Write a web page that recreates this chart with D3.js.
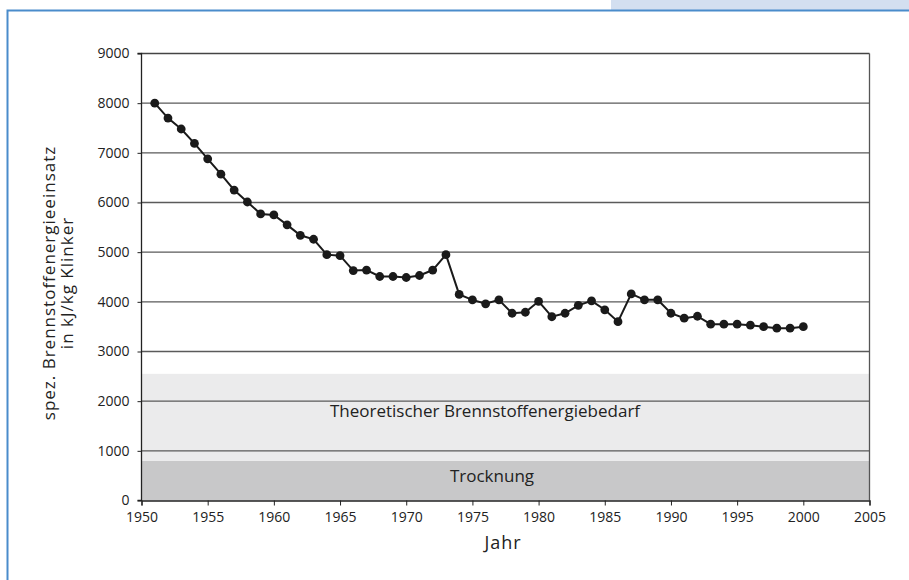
<!DOCTYPE html>
<html><head><meta charset="utf-8">
<script src="https://cdn.jsdelivr.net/npm/d3@7/dist/d3.min.js"></script>
<style>
html,body{margin:0;padding:0;background:#fff;}
svg{display:block;}
text{font-family:"Open Sans",sans-serif;fill:#222;}
</style></head>
<body>
<svg id="c" width="909" height="580"></svg>
<script>
const years = [1951,1952,1953,1954,1955,1956,1957,1958,1959,1960,1961,1962,1963,1964,1965,1966,1967,1968,1969,1970,1971,1972,1973,1974,1975,1976,1977,1978,1979,1980,1981,1982,1983,1984,1985,1986,1987,1988,1989,1990,1991,1992,1993,1994,1995,1996,1997,1998,1999,2000];
const energy = [8000,7700,7480,7190,6880,6570,6250,6010,5770,5750,5550,5340,5260,4950,4930,4630,4640,4510,4510,4490,4530,4640,4950,4150,4040,3960,4040,3770,3790,4010,3700,3770,3930,4020,3840,3600,4160,4040,4040,3770,3670,3710,3550,3550,3550,3530,3500,3470,3470,3500];
const yTicks = [0,1000,2000,3000,4000,5000,6000,7000,8000,9000];
const xTicks = [1950,1955,1960,1965,1970,1975,1980,1985,1990,1995,2000,2005];
const bandNames = ["Trocknung","Theoretischer Brennstoffenergiebedarf"];
const bandLow = [0,800];
const bandHigh = [800,2550];
const yTitle = ["spez. Brennstoffenergieeinsatz","in kJ/kg Klinker"];
const xTitle = "Jahr";

const svg = d3.select("#c");
// frame
svg.append("rect").attr("x",611).attr("y",0).attr("width",298).attr("height",10).attr("fill","#d3dff0");
svg.append("path").attr("d","M7.5,600 L7.5,10.5 L909,10.5").attr("fill","none").attr("stroke","#4a8ccb").attr("stroke-width",2);

const x = d3.scaleLinear().domain([1950,2005]).range([141.5,869.5]);
const y = d3.scaleLinear().domain([0,9000]).range([500.5,53.5]);

// bands
const bandFill = ["#c8c8c9","#ebebec"];
svg.append("g").selectAll("rect").data(bandNames).join("rect")
  .attr("x",x(1950)).attr("width",x(2005)-x(1950))
  .attr("y",(d,i)=>y(bandHigh[i])).attr("height",(d,i)=>y(bandLow[i])-y(bandHigh[i]))
  .attr("fill",(d,i)=>bandFill[i]);

// grid
svg.append("g").selectAll("line").data(yTicks.filter(v=>v>0)).join("line")
  .attr("x1",x(1950)).attr("x2",x(2005)).attr("y1",d=>y(d)).attr("y2",d=>y(d))
  .attr("stroke",d=>d===9000?"#444":"#5a5a5a").attr("stroke-width",1.3);
// right border
svg.append("line").attr("x1",x(2005)).attr("x2",x(2005)).attr("y1",y(9000)).attr("y2",y(0)).attr("stroke","#555").attr("stroke-width",1.3);

// band labels
const bandLabelX = [492,485];
const bandLabelBase = [482,417];
svg.append("g").selectAll("text").data(bandNames).join("text")
  .attr("x",(d,i)=>bandLabelX[i]).attr("y",(d,i)=>bandLabelBase[i])
  .attr("text-anchor","middle").attr("font-size",17).text(d=>d);

// axes
const yAxis = d3.axisLeft(y).tickValues(yTicks).tickSize(4).tickPadding(8).tickFormat(d3.format("d"));
const gy = svg.append("g").attr("transform",`translate(${x(1950)},0)`).call(yAxis);
const xAxis = d3.axisBottom(x).tickValues(xTicks).tickSize(5).tickPadding(7).tickFormat(d3.format("d"));
const gx = svg.append("g").attr("transform",`translate(0,${y(0)})`).call(xAxis);
[gy,gx].forEach(g=>{
  g.select(".domain").attr("stroke","#222").attr("stroke-width",1.3);
  g.selectAll(".tick line").attr("stroke","#222");
  g.selectAll(".tick text").attr("font-family","'Open Sans',sans-serif").attr("font-size",14).attr("fill","#222");
});
gy.select(".domain").attr("d",`M-4,${y(9000)}H0V${y(0)}H-4`);

// titles
svg.append("text").attr("x",503).attr("y",549).attr("text-anchor","middle").attr("font-size",18).attr("letter-spacing",1).text(xTitle);
const yt = svg.append("text").attr("transform","translate(55,283) rotate(-90)").attr("text-anchor","middle").attr("font-size",17).attr("letter-spacing",1);
yTitle.forEach((t,i)=>yt.append("tspan").attr("x",0).attr("dy",i===0?0:18).text(t));

// line + points
const line = d3.line().x((d,i)=>x(years[i])).y(d=>y(d));
svg.append("path").datum(energy).attr("d",line).attr("fill","none").attr("stroke","#1a1a1a").attr("stroke-width",2);
svg.append("g").selectAll("circle").data(energy).join("circle")
  .attr("cx",(d,i)=>x(years[i])).attr("cy",d=>y(d)).attr("r",4.4).attr("fill","#1a1a1a");
</script>
</body></html>
